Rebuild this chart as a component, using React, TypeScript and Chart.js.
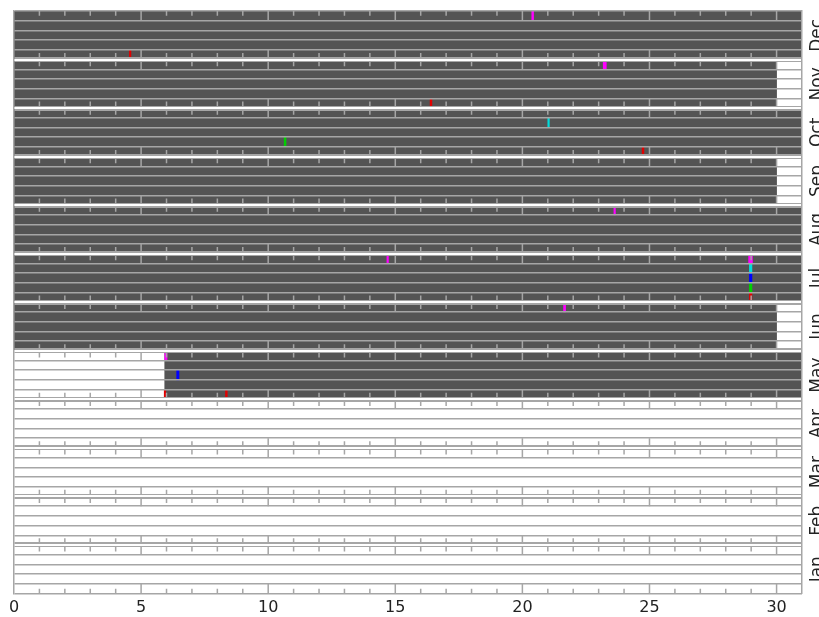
import React, { useEffect, useRef } from 'react';
import { Chart, registerables } from 'chart.js';

Chart.register(...registerables);

// Panels from top to bottom
const months = ['Dec', 'Nov', 'Oct', 'Sep', 'Aug', 'Jul', 'Jun', 'May', 'Apr', 'Mar', 'Feb', 'Jan'];
// Rows inside each panel, top to bottom
const rowNumbers = [1, 2, 3, 4, 5];
const channelColors = ['#ff00ff', '#00dcdc', '#0000ff', '#00d000', '#e00000'];

const xTickValues = [0, 5, 10, 15, 20, 25, 30];
const dayTicks = [1, 2, 3, 4, 5, 6, 7, 8, 9, 10, 11, 12, 13, 14, 15, 16, 17, 18, 19, 20, 21, 22, 23, 24, 25, 26, 27, 28, 29, 30];
const majorTickEvery = 5;

// Data coverage (dark fill) per month
const coverageMonths = ['Dec', 'Nov', 'Oct', 'Sep', 'Aug', 'Jul', 'Jun', 'May'];
const coverageStart = [0, 0, 0, 0, 0, 0, 0, 5.93];
const coverageEnd = [31, 30, 31, 30, 31, 31, 30, 31];

// Events, one set per channel (row)
const magentaMonths = ['Dec', 'Nov', 'Aug', 'Jul', 'Jul', 'Jun', 'May'];
const magentaStart = [20.37, 23.18, 23.6, 14.67, 28.9, 21.62, 5.93];
const magentaEnd = [20.44, 23.3, 23.66, 14.73, 29.05, 21.7, 6.02];

const cyanMonths = ['Oct', 'Jul'];
const cyanStart = [21.0, 28.93];
const cyanEnd = [21.06, 29.03];

const blueMonths = ['Jul', 'May'];
const blueStart = [28.93, 6.4];
const blueEnd = [29.03, 6.49];

const greenMonths = ['Oct', 'Jul'];
const greenStart = [10.63, 28.93];
const greenEnd = [10.7, 29.03];

const redMonths = ['Dec', 'Nov', 'Oct', 'Jul', 'May', 'May'];
const redStart = [4.54, 16.37, 24.71, 28.93, 5.91, 8.32];
const redEnd = [4.6, 16.44, 24.78, 29.03, 5.97, 8.39];

const GRID = '#a6a6a6';
const FONT = '"DejaVu Sans", sans-serif';
const SEP_WIDTH = 5;

const rowLabels = months.flatMap((m) => rowNumbers.map((r) => `${m}-${r}`));

const channelEvents = [
  { months: magentaMonths, start: magentaStart, end: magentaEnd },
  { months: cyanMonths, start: cyanStart, end: cyanEnd },
  { months: blueMonths, start: blueStart, end: blueEnd },
  { months: greenMonths, start: greenStart, end: greenEnd },
  { months: redMonths, start: redStart, end: redEnd },
];

const panelTicks = {
  id: 'panelTicks',
  afterDraw(chart: any) {
    const { ctx } = chart;
    const x = chart.scales.x;
    const y = chart.scales.y;
    const rowH = Math.abs(y.getPixelForValue(1) - y.getPixelForValue(0));
    const n = rowNumbers.length;
    ctx.save();
    ctx.strokeStyle = GRID;
    ctx.lineWidth = 1.5;
    for (let p = 0; p < months.length; p++) {
      const insetTop = p === 0 ? 0 : SEP_WIDTH / 2 - 0.5;
      const insetBot = p === months.length - 1 ? 0 : SEP_WIDTH / 2 - 0.5;
      const top = y.getPixelForValue(p * n) - rowH / 2;
      const bot = y.getPixelForValue(p * n + n - 1) + rowH / 2;
      for (const d of dayTicks) {
        const px = x.getPixelForValue(d);
        const lenTop = d % majorTickEvery === 0 ? rowH : insetTop + rowH * 0.48;
        const lenBot = d % majorTickEvery === 0 ? rowH : insetBot + rowH * 0.48;
        ctx.beginPath();
        ctx.moveTo(px, top + insetTop);
        ctx.lineTo(px, top + lenTop);
        ctx.moveTo(px, bot - insetBot);
        ctx.lineTo(px, bot - lenBot);
        ctx.stroke();
      }
    }
    ctx.restore();
  },
};

export default function App() {
  const ref = useRef<HTMLCanvasElement>(null);

  useEffect(() => {
    if (!ref.current) return;
    const datasets: any[] = channelEvents.map((ev, c) => ({
      label: `ch${c + 1}`,
      data: ev.months.map((m, i) => ({ x: [ev.start[i], ev.end[i]], y: `${m}-${rowNumbers[c]}` })),
      backgroundColor: channelColors[c],
      order: 0,
    }));
    datasets.push({
      label: 'coverage',
      data: coverageMonths.flatMap((m, i) =>
        rowNumbers.map((r) => ({ x: [coverageStart[i], coverageEnd[i]], y: `${m}-${r}` }))
      ),
      backgroundColor: '#545454',
      order: 1,
    });

    const chart = new Chart(ref.current, {
      type: 'bar',
      data: { labels: rowLabels, datasets },
      plugins: [panelTicks],
      options: {
        indexAxis: 'y',
        animation: false,
        responsive: false,
        devicePixelRatio: 1,
        layout: { padding: { left: 14, top: 11, right: 0, bottom: 0 } },
        plugins: { legend: { display: false }, tooltip: { enabled: false } },
        datasets: {
          bar: { barPercentage: 1, categoryPercentage: 1, grouped: false, borderWidth: 0 },
        },
        scales: {
          x: {
            type: 'linear',
            min: 0,
            max: 31,
            position: 'bottom',
            grid: { display: false, drawTicks: false },
            border: { display: false },
            ticks: { font: { family: FONT, size: 16 }, color: '#222', padding: 5, includeBounds: false },
            afterBuildTicks: (s: any) => {
              s.ticks = xTickValues.map((v) => ({ value: v }));
            },
            afterFit: (s: any) => {
              s.height = 23.5;
            },
          },
          y: {
            type: 'category',
            labels: rowLabels,
            offset: true,
            position: 'left',
            grid: {
              z: 1,
              offset: true,
              drawTicks: false,
              color: GRID,
              lineWidth: (ctx: any) => {
                const i = ctx.index;
                return i !== undefined && i > 0 && i % rowNumbers.length === 0 ? SEP_WIDTH : 1.5;
              },
            },
            border: { display: true, color: GRID, width: 1.5, z: 3 },
            ticks: { display: false },
          },
          y3: {
            type: 'category',
            labels: rowLabels,
            offset: true,
            position: 'left',
            grid: {
              z: 2,
              offset: true,
              drawTicks: false,
              lineWidth: 2,
              color: (ctx: any) => {
                const i = ctx.index;
                return i !== undefined && i > 0 && i % rowNumbers.length === 0 ? '#ffffff' : 'rgba(0,0,0,0)';
              },
            },
            border: { display: false },
            ticks: { display: false },
          },
          y2: {
            type: 'category',
            labels: months,
            offset: true,
            position: 'right',
            grid: { display: false, drawTicks: false },
            border: { display: true, color: GRID, width: 1.5, z: 3 },
            ticks: {
              display: true,
              autoSkip: false,
              minRotation: 90,
              maxRotation: 90,
              crossAlign: 'center',
              padding: -2,
              font: { family: FONT, size: 17 },
              color: '#222',
            },
            afterFit: (s: any) => {
              s.width = 17;
            },
          },
        },
      } as any,
    });
    return () => chart.destroy();
  }, []);

  return (
    <div style={{ position: 'absolute', left: 0, top: 0, width: 819, height: 617, background: '#fff' }}>
      <canvas ref={ref} width={819} height={617} style={{ display: 'block' }} />
    </div>
  );
}
